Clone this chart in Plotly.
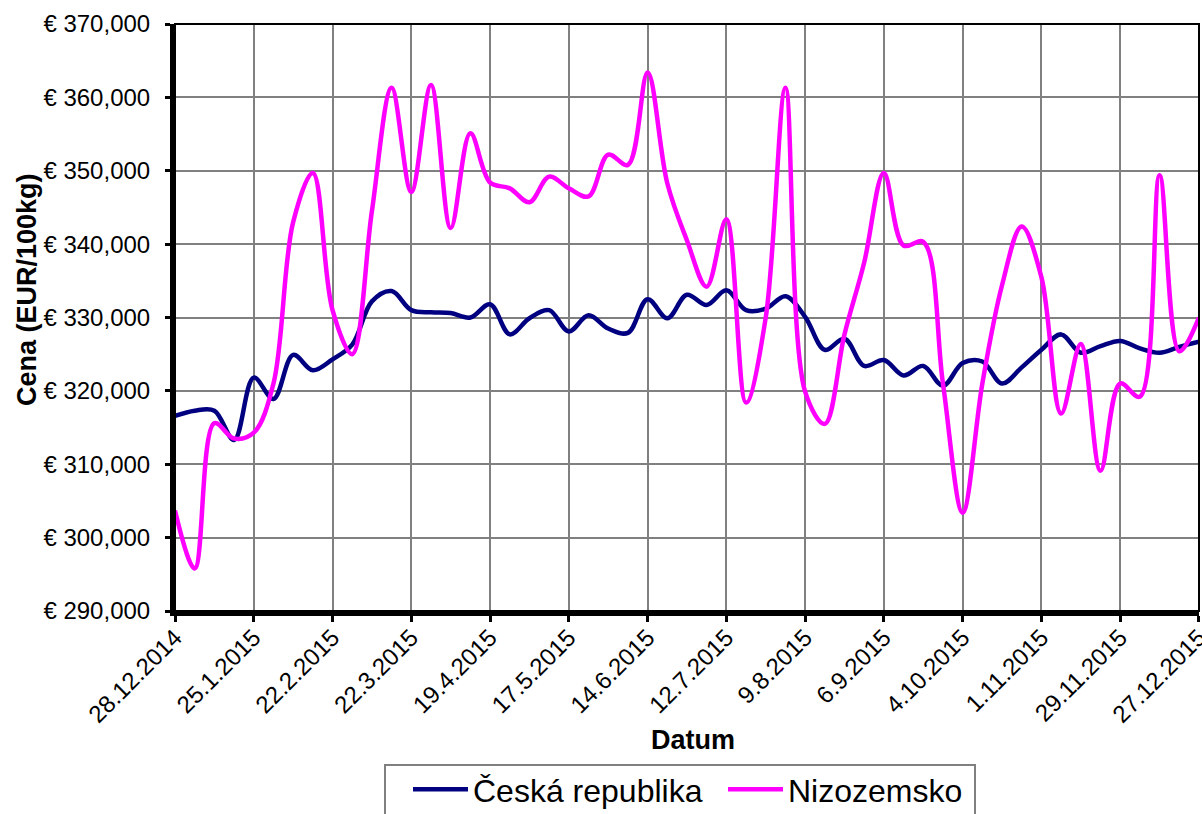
import pandas as pd
import plotly.graph_objects as go

start_date = "2014-12-28"
n_weeks = 53
dates = pd.date_range(start=start_date, periods=n_weeks, freq="7D")

tick_labels = ["28.12.2014", "25.1.2015", "22.2.2015", "22.3.2015", "19.4.2015",
               "17.5.2015", "14.6.2015", "12.7.2015", "9.8.2015", "6.9.2015",
               "4.10.2015", "1.11.2015", "29.11.2015", "27.12.2015"]

ceska_republika = [316.6, 317.3, 317.3, 313.3, 321.8, 318.9, 324.9, 322.8, 324.3, 326.3,
                   332.2, 333.6, 331.0, 330.7, 330.6, 330.0, 331.8, 327.7, 329.9, 331.0,
                   328.1, 330.3, 328.5, 327.9, 332.5, 329.9, 333.1, 331.7, 333.7, 331.0,
                   331.2, 332.9, 330.1, 325.6, 327.1, 323.4, 324.2, 322.1, 323.4, 320.7,
                   323.8, 324.0, 321.0, 323.2, 325.6, 327.7, 325.2, 326.1, 326.8, 325.8,
                   325.2, 326.0, 326.7]

nizozemsko = [303.7, 295.8, 315.6, 313.5, 314.3, 321.0, 343.0, 349.7, 331.0, 325.0,
              344.5, 361.3, 347.1, 361.7, 342.2, 355.1, 348.4, 347.6, 345.7, 349.2,
              347.6, 346.5, 352.2, 350.8, 363.4, 348.3, 340.5, 334.2, 343.4, 318.4,
              330.0, 361.3, 319.9, 315.5, 327.7, 337.5, 349.7, 339.8, 340.3, 321.0,
              303.4, 321.0, 334.4, 342.4, 335.5, 316.9, 326.4, 309.1, 321.0, 319.2,
              349.4, 325.4, 330.0]

x_title = "Datum"
y_title = "Cena (EUR/100kg)"

tick_dates = dates[::4]

FONT = "Liberation Sans, Arial, sans-serif"
W, H = 1202, 814
ML, MR, MT, MB = 175, 3, 24, 203
PW, PH = W - ML - MR, H - MT - MB


def px_x(px):
    return (px - ML) / PW


def px_y(py):
    return (H - MB - py) / PH


fig = go.Figure()
fig.add_trace(go.Scatter(x=dates, y=ceska_republika, mode="lines", name="Česká republika",
                         line=dict(color="#000080", width=4.5, shape="spline", smoothing=1.0)))
fig.add_trace(go.Scatter(x=dates, y=nizozemsko, mode="lines", name="Nizozemsko",
                         line=dict(color="#FF00FF", width=4.5, shape="spline", smoothing=1.0)))

x_end = dates[-1] + pd.Timedelta(minutes=30)

fig.update_layout(
    width=W, height=H,
    margin=dict(l=ML, r=MR, t=MT, b=MB, pad=0, autoexpand=False),
    plot_bgcolor="white", paper_bgcolor="white",
    separators=", ",
    font=dict(family=FONT, color="black", size=24),
    showlegend=True,
    legend=dict(orientation="h", xref="container", yref="container",
                x=408 / W, y=1 - 762 / H, xanchor="left", yanchor="top",
                borderwidth=0, font=dict(size=32, family=FONT),
                itemwidth=55, entrywidth=245, entrywidthmode="pixels",
                bgcolor="rgba(0,0,0,0)"),
    xaxis=dict(type="date", range=[dates[0], x_end], automargin=False,
               tickmode="array", tickvals=tick_dates, ticktext=tick_labels,
               tickangle=-45, ticks="outside", ticklen=6, tickwidth=3, tickcolor="black",
               ticklabelstandoff=-8, ticklabeloverflow="allow",
               showline=True, linewidth=5, linecolor="black",
               showgrid=True, gridcolor="#808080", gridwidth=2,
               tickfont=dict(size=24, family=FONT)),
    yaxis=dict(range=[290, 370], dtick=10, tick0=290, tickformat=".3f", tickprefix="€ ",
               automargin=False,
               ticks="outside", ticklen=5, tickwidth=3, tickcolor="black",
               ticklabelstandoff=10,
               showline=True, linewidth=5, linecolor="black",
               showgrid=True, gridcolor="#808080", gridwidth=2, zeroline=False,
               tickfont=dict(size=24, family=FONT)),
    annotations=[
        dict(text="<b>" + x_title + "</b>", xref="paper", yref="paper",
             x=px_x(693), y=px_y(740), xanchor="center", yanchor="middle",
             showarrow=False, font=dict(size=27, family=FONT, color="black")),
        dict(text="<b>" + y_title + "</b>", xref="paper", yref="paper",
             x=px_x(27), y=px_y(290), xanchor="center", yanchor="middle", textangle=-90,
             showarrow=False, font=dict(size=27, family=FONT, color="black")),
    ],
    shapes=[
        dict(type="rect", xref="paper", yref="paper", x0=0, x1=1, y0=0, y1=1,
             line=dict(color="black", width=2), layer="above"),
        dict(type="rect", xref="paper", yref="paper",
             x0=px_x(385), x1=px_x(975), y0=px_y(830), y1=px_y(765),
             line=dict(color="#808080", width=2), fillcolor="rgba(0,0,0,0)", layer="above"),
    ],
)

fig.write_html("out.html", config={"displayModeBar": False},
               post_script="document.body.style.margin='0px';")
